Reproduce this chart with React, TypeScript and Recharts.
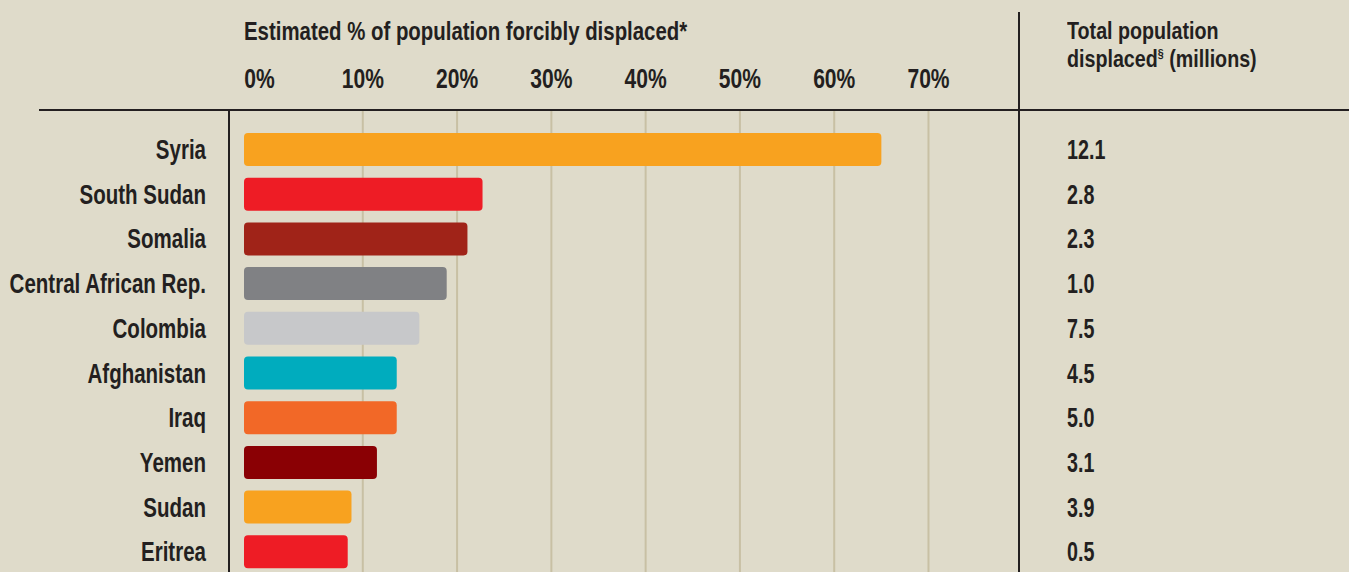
import React from "react";
import { BarChart, Bar, XAxis, YAxis, CartesianGrid, Cell } from "recharts";

const COUNTRIES = [
  "Syria",
  "South Sudan",
  "Somalia",
  "Central African Rep.",
  "Colombia",
  "Afghanistan",
  "Iraq",
  "Yemen",
  "Sudan",
  "Eritrea",
];
// estimated % of population forcibly displaced
const PCT_DISPLACED = [65.0, 22.7, 21.1, 18.9, 16.0, 13.6, 13.6, 11.5, 8.8, 8.4];
// total population displaced (millions)
const MILLIONS = ["12.1", "2.8", "2.3", "1.0", "7.5", "4.5", "5.0", "3.1", "3.9", "0.5"];
const X_TICKS = [0, 10, 20, 30, 40, 50, 60, 70];
const GRID_VALUES = [10, 20, 30, 40, 50, 60, 70];

const BAR_COLORS = [
  "#f8a21f",
  "#ee1c25",
  "#a02318",
  "#808184",
  "#c7c8ca",
  "#00acbe",
  "#f26827",
  "#8a0004",
  "#f8a21f",
  "#ee1c25",
];

// bars are drawn a little past zero, as in the print version
const BAR_BASE = -2.6;
const X_MAX = 79.6;

const BG = "#dfdbca";
const INK = "#231f20";
const FONT = "'Liberation Sans', Arial, sans-serif";

const data = COUNTRIES.map((country, i) => ({
  country,
  pct: PCT_DISPLACED[i],
  range: [BAR_BASE, PCT_DISPLACED[i]],
}));

// no condensed face installed, so squeeze the regular one horizontally
const NarrowText = ({
  x,
  y,
  anchor,
  size,
  squeeze,
  dy,
  children,
}: {
  x: number;
  y: number;
  anchor: "start" | "middle" | "end";
  size: number;
  squeeze: number;
  dy?: string;
  children: React.ReactNode;
}) => (
  <text
    transform={`translate(${x},${y}) scale(${squeeze},1)`}
    textAnchor={anchor}
    dy={dy}
    fontFamily={FONT}
    fontWeight="bold"
    fontSize={size}
    fill={INK}
  >
    {children}
  </text>
);

const XTick = (props: any) => {
  const { x, y, payload } = props;
  const dx = payload.value === 0 ? -9 : 0;
  return (
    <NarrowText x={x + dx} y={y} anchor="middle" size={27} squeeze={0.78}>
      {payload.value}%
    </NarrowText>
  );
};

const CountryTick = (props: any) => {
  const { x, y, payload } = props;
  return (
    <NarrowText x={x} y={y} anchor="end" size={27} squeeze={0.76} dy="0.36em">
      {payload.value}
    </NarrowText>
  );
};

const MillionsTick = (props: any) => {
  const { x, y, index } = props;
  return (
    <NarrowText x={x} y={y} anchor="start" size={27} squeeze={0.73} dy="0.36em">
      {MILLIONS[index]}
    </NarrowText>
  );
};

const headStyle: React.CSSProperties = {
  position: "absolute",
  fontWeight: "bold",
  whiteSpace: "nowrap",
  transformOrigin: "0 0",
};

export default function App() {
  return (
    <div
      style={{
        position: "absolute",
        top: 0,
        left: 0,
        width: 1349,
        height: 572,
        overflow: "hidden",
        background: BG,
        fontFamily: FONT,
        color: INK,
      }}
    >
      {/* headers */}
      <div
        style={{
          ...headStyle,
          left: 244,
          top: 19,
          fontSize: 25.5,
          lineHeight: "25px",
          transform: "scaleX(0.8)",
        }}
      >
        Estimated % of population forcibly displaced*
      </div>
      <div
        style={{
          ...headStyle,
          left: 1067,
          top: 17,
          fontSize: 24,
          lineHeight: "28px",
          transform: "scaleX(0.82)",
        }}
      >
        Total population
        <br />
        displaced<sup style={{ fontSize: 13, verticalAlign: "9px", lineHeight: 0 }}>§</sup> (millions)
      </div>

      <div style={{ position: "absolute", left: 0, top: 0 }}>
        <BarChart
          width={1349}
          height={574}
          data={data}
          layout="vertical"
          margin={{ top: 0, right: 0, bottom: 0, left: 0 }}
        >
          <CartesianGrid
            horizontal={false}
            vertical={true}
            verticalValues={GRID_VALUES}
            stroke="#c8c0a4"
            strokeWidth={2}
          />
          <XAxis
            type="number"
            orientation="top"
            domain={[BAR_BASE, X_MAX]}
            allowDataOverflow
            ticks={X_TICKS}
            height={110}
            axisLine={false}
            tickLine={false}
            tickSize={0}
            tickMargin={22}
            tick={<XTick />}
            interval={0}
          />
          <YAxis
            type="category"
            dataKey="country"
            width={244}
            axisLine={false}
            tickLine={false}
            tickSize={0}
            tickMargin={38}
            padding={{ top: 17, bottom: 0 }}
            tick={<CountryTick />}
            interval={0}
          />
          <YAxis
            yAxisId="right"
            orientation="right"
            type="category"
            dataKey="country"
            width={330}
            axisLine={false}
            tickLine={false}
            tickSize={0}
            tickMargin={48}
            padding={{ top: 17, bottom: 0 }}
            tick={<MillionsTick />}
            interval={0}
          />
          <Bar dataKey="range" barSize={33} radius={4} isAnimationActive={false}>
            {data.map((d, i) => (
              <Cell key={d.country} fill={BAR_COLORS[i % BAR_COLORS.length]} />
            ))}
          </Bar>
        </BarChart>
      </div>

      {/* frame rules */}
      <div style={{ position: "absolute", left: 39, top: 109, width: 1310, height: 2, background: INK }} />
      <div style={{ position: "absolute", left: 228, top: 110, width: 2, height: 470, background: INK }} />
      <div style={{ position: "absolute", left: 1018, top: 12, width: 2, height: 570, background: INK }} />
    </div>
  );
}
